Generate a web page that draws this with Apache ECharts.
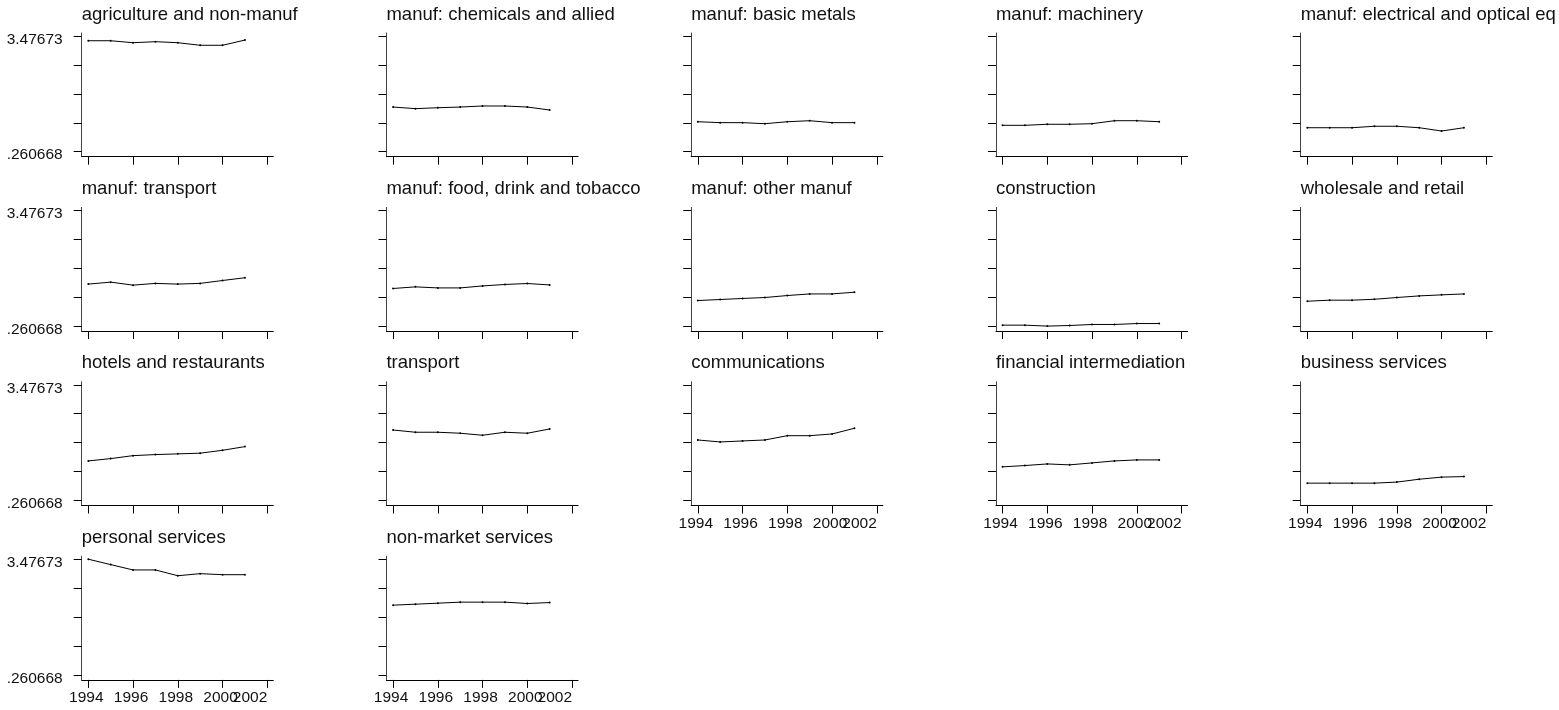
<!DOCTYPE html>
<html>
<head>
<meta charset="utf-8">
<script src="https://cdn.jsdelivr.net/npm/echarts@6/dist/echarts.min.js"></script>
<style>
html,body{margin:0;padding:0;background:#fff;}
#chart{width:1559px;height:710px;}
</style>
</head>
<body>
<div id="chart"></div>
<script>
// ---- data ----
const years = [1994, 1995, 1996, 1997, 1998, 1999, 2000, 2001];
const xTickValues = [1994, 1996, 1998, 2000, 2002];
const xLabelValuesMain = [1994, 1996, 1998, 2000];
const xLabelValuesLast = [2002];
const yLabelValues = [0.260668, 3.47673];
const yLabelTexts = ['.260668', '3.47673'];
const sectors = [
  'agriculture and non-manuf', 'manuf: chemicals and allied', 'manuf: basic metals', 'manuf: machinery', 'manuf: electrical and optical eq',
  'manuf: transport', 'manuf: food, drink and tobacco', 'manuf: other manuf', 'construction', 'wholesale and retail',
  'hotels and restaurants', 'transport', 'communications', 'financial intermediation', 'business services',
  'personal services', 'non-market services'
];
const agriculture   = [3.345, 3.345, 3.290, 3.319, 3.290, 3.219, 3.219, 3.364];
const chemicals     = [1.502, 1.457, 1.483, 1.502, 1.531, 1.531, 1.502, 1.419];
const basicMetals   = [1.094, 1.068, 1.068, 1.039, 1.094, 1.122, 1.068, 1.068];
const machinery     = [0.994, 0.994, 1.023, 1.023, 1.039, 1.122, 1.122, 1.094];
const electrical    = [0.927, 0.927, 0.927, 0.968, 0.968, 0.927, 0.836, 0.927];
const manufTransport= [1.428, 1.483, 1.399, 1.448, 1.428, 1.448, 1.528, 1.605];
const food          = [1.306, 1.351, 1.322, 1.322, 1.377, 1.418, 1.444, 1.405];
const otherManuf    = [0.971, 1.000, 1.029, 1.055, 1.110, 1.155, 1.155, 1.203];
const construction  = [0.287, 0.287, 0.260668, 0.277, 0.306, 0.306, 0.332, 0.332];
const wholesale     = [0.952, 0.981, 0.981, 1.007, 1.055, 1.100, 1.129, 1.155];
const hotels        = [1.361, 1.425, 1.508, 1.537, 1.557, 1.576, 1.656, 1.759];
const transport     = [2.220, 2.158, 2.158, 2.130, 2.074, 2.158, 2.130, 2.249];
const communications= [1.943, 1.888, 1.916, 1.943, 2.062, 2.062, 2.110, 2.268];
const financial     = [1.196, 1.232, 1.277, 1.251, 1.306, 1.361, 1.389, 1.389];
const business      = [0.743, 0.743, 0.743, 0.743, 0.772, 0.852, 0.910, 0.926];
const personal      = [3.47673, 3.326, 3.178, 3.178, 3.017, 3.075, 3.046, 3.046];
const nonMarket     = [2.199, 2.226, 2.254, 2.283, 2.283, 2.283, 2.245, 2.271];

const seriesValues = [agriculture, chemicals, basicMetals, machinery, electrical,
  manufTransport, food, otherManuf, construction, wholesale,
  hotels, transport, communications, financial, business,
  personal, nonMarket];

// ---- layout ----
const yMinVal = 0.260668, yMaxVal = 3.47673;
const yStep = (yMaxVal - yMinVal) / 4;
const yTickValues = [0, 1, 2, 3, 4].map(k => yMinVal + k * yStep);
const FONT = '"Liberation Sans", Arial, Helvetica, sans-serif';
const TXT = '#111';
const COLS = 5;
const colStep = 304.75, rowStep = 174.4;
const gridLeft0 = 81.7, gridTop0 = 33, gridW = 191.6, gridH = 123.7;
const X_MIN = 1993.705, X_MAX = 2002.268;
const bottomLabeled = [12, 13, 14, 15, 16];

const option = { animation: false, backgroundColor: '#fff', title: [], grid: [], xAxis: [], yAxis: [], series: [] };

sectors.forEach((name, i) => {
  const r = Math.floor(i / COLS), c = i % COLS;
  const left = gridLeft0 + colStep * c;
  const top = gridTop0 + rowStep * r;
  const labeled = bottomLabeled.includes(i);
  option.title.push({
    text: name, left: left, top: 5 + rowStep * r, padding: 0,
    textStyle: { fontSize: 18.5, fontWeight: 'normal', fontFamily: FONT, color: TXT }
  });
  option.grid.push({ left: left, top: top, width: gridW, height: gridH });
  // main x axis: line, ticks, labels 1994..2000
  option.xAxis.push({
    gridIndex: i, type: 'value', position: 'bottom', min: X_MIN, max: X_MAX,
    axisLine: { show: true, onZero: false, lineStyle: { color: '#000', width: 1 } },
    axisTick: { show: true, inside: false, length: 8, customValues: xTickValues, lineStyle: { color: '#000', width: 1 } },
    axisLabel: {
      show: labeled, customValues: xLabelValuesMain, margin: 10, padding: [0, 4, 0, 0],
      fontSize: 15.5, fontFamily: FONT, color: TXT, showMinLabel: true, showMaxLabel: true,
      formatter: v => String(Math.round(v))
    },
    splitLine: { show: false }
  });
  // helper x axis: only the last label, right-aligned at its tick
  option.xAxis.push({
    gridIndex: i, type: 'value', position: 'bottom', offset: 0, min: X_MIN, max: X_MAX,
    axisLine: { show: false, onZero: false },
    axisTick: { show: false },
    axisLabel: {
      show: labeled, customValues: xLabelValuesLast, margin: 10, align: 'right',
      fontSize: 15.5, fontFamily: FONT, color: TXT, showMinLabel: true, showMaxLabel: true,
      formatter: v => String(Math.round(v))
    },
    splitLine: { show: false }
  });
  option.yAxis.push({
    gridIndex: i, type: 'value', min: 0.1217, max: 3.5601,
    axisLine: { show: true, onZero: false, lineStyle: { color: '#444', width: 1 } },
    axisTick: { show: true, inside: false, length: 8, customValues: yTickValues, lineStyle: { color: '#000', width: 1 } },
    axisLabel: {
      show: c === 0, customValues: yLabelValues, margin: 19,
      verticalAlign: 'top', lineHeight: 7,
      fontSize: 15.5, fontFamily: FONT, color: TXT, showMinLabel: true, showMaxLabel: true,
      formatter: v => {
        let best = 0;
        yLabelValues.forEach((lv, k) => { if (Math.abs(lv - v) < Math.abs(yLabelValues[best] - v)) best = k; });
        return yLabelTexts[best];
      }
    },
    splitLine: { show: false }
  });
  option.series.push({
    type: 'line', name: name, xAxisIndex: 2 * i, yAxisIndex: i,
    data: years.map((y, k) => [y, seriesValues[i][k]]),
    symbol: 'circle', symbolSize: 2, showSymbol: true, silent: true,
    lineStyle: { color: '#000', width: 1 }, itemStyle: { color: '#000' }
  });
});

const chart = echarts.init(document.getElementById('chart'), null, { renderer: 'canvas' });
chart.setOption(option);
</script>
</body>
</html>
